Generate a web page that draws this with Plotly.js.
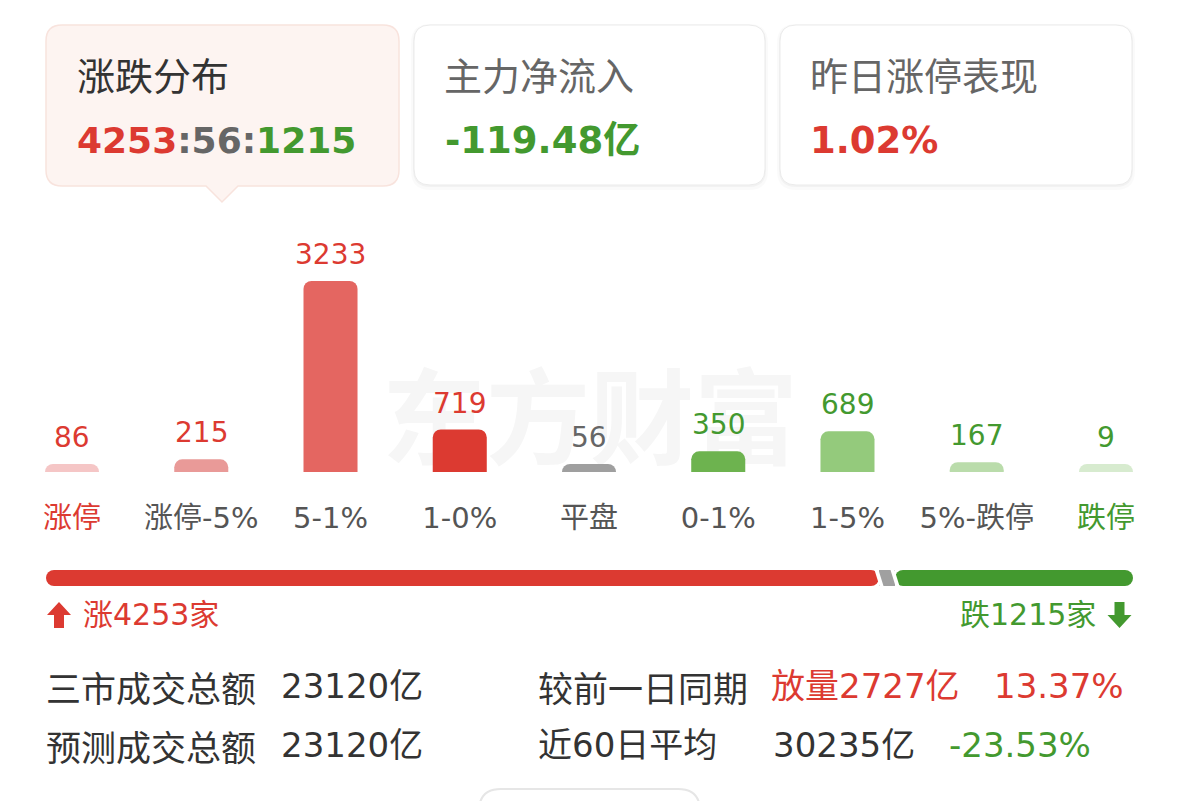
<!DOCTYPE html>
<html>
<head>
<meta charset="utf-8">
<script src="https://cdn.plot.ly/plotly-3.0.1.min.js"></script>
<style>
html,body{margin:0;padding:0;background:#fff;}
#chart{width:1179px;height:801px;}
</style>
</head>
<body>
<div id="chart"></div>
<script>
// ---------- data ----------
const categories = ['涨停', '涨停-5%', '5-1%', '1-0%', '平盘', '0-1%', '1-5%', '5%-跌停', '跌停'];
const counts = [86, 215, 3233, 719, 56, 350, 689, 167, 9];
const upCount = 4253;
const flatCount = 56;
const downCount = 1215;
const netInflow = '-119.48亿';
const yesterdayLimitUp = '1.02%';
const turnoverTotal = '23120亿';
const turnoverForecast = '23120亿';
const vsPrevAmount = '放量2727亿';
const vsPrevPct = '13.37%';
const avg60 = '30235亿';
const avg60Pct = '-23.53%';

// ---------- styles ----------
const W = 1179, H = 801;
const RED = '#dc3a31', GREEN = '#43992f', GRAY = '#666666', DARK = '#333333';
const barColors = ['#f5c6c6', '#e99a98', '#e46661', '#dc3a31', '#9f9f9f', '#6db34f', '#94ca7c', '#badcab', '#d7ebcf'];
const valueColors = [RED, RED, RED, RED, GRAY, GREEN, GREEN, GREEN, GREEN];
const labelColors = [RED, '#555555', '#555555', '#555555', '#555555', '#555555', '#555555', '#555555', GREEN];
const FONT = 'DejaVu Sans, Noto Sans CJK SC, sans-serif';
const CJK = 'Noto Sans CJK SC, sans-serif';

const X = x => x / W;
const Y = y => 1 - y / H;

// bar axis geometry
const yTopPx = 230, yBotPx = 472, yMax = 4096;
const minBarPx = 8; // emulate barMinHeight
const minVal = minBarPx * yMax / (yBotPx - yTopPx);
const displayVals = counts.map(v => Math.max(v, minVal));

function rr(x0, y0, x1, y1, r) {
  return `M${X(x0 + r)},${Y(y0)} L${X(x1 - r)},${Y(y0)} Q${X(x1)},${Y(y0)} ${X(x1)},${Y(y0 + r)} ` +
    `L${X(x1)},${Y(y1 - r)} Q${X(x1)},${Y(y1)} ${X(x1 - r)},${Y(y1)} L${X(x0 + r)},${Y(y1)} ` +
    `Q${X(x0)},${Y(y1)} ${X(x0)},${Y(y1 - r)} L${X(x0)},${Y(y0 + r)} Q${X(x0)},${Y(y0)} ${X(x0 + r)},${Y(y0)} Z`;
}
function rrPointer(x0, y0, x1, y1, r, px, ph, pw) {
  return `M${X(x0 + r)},${Y(y0)} L${X(x1 - r)},${Y(y0)} Q${X(x1)},${Y(y0)} ${X(x1)},${Y(y0 + r)} ` +
    `L${X(x1)},${Y(y1 - r)} Q${X(x1)},${Y(y1)} ${X(x1 - r)},${Y(y1)} ` +
    `L${X(px + pw / 2)},${Y(y1)} L${X(px)},${Y(y1 + ph)} L${X(px - pw / 2)},${Y(y1)} ` +
    `L${X(x0 + r)},${Y(y1)} Q${X(x0)},${Y(y1)} ${X(x0)},${Y(y1 - r)} L${X(x0)},${Y(y0 + r)} Q${X(x0)},${Y(y0)} ${X(x0 + r)},${Y(y0)} Z`;
}

const shapes = [];
// card shadows
[[414, 765], [780, 1132]].forEach(([a, b]) => {
  shapes.push({type: 'path', xref: 'paper', yref: 'paper', path: rr(a - 3, 25 - 1, b + 3, 185 + 5, 19), fillcolor: 'rgba(0,0,0,0.018)', line: {width: 0}});
  shapes.push({type: 'path', xref: 'paper', yref: 'paper', path: rr(a - 1, 25, b + 1, 185 + 2, 17), fillcolor: 'rgba(0,0,0,0.03)', line: {width: 0}});
  shapes.push({type: 'path', xref: 'paper', yref: 'paper', path: rr(a, 25, b, 185, 16), fillcolor: '#ffffff', line: {color: '#ebebeb', width: 1}});
});
// first card with pointer
shapes.push({type: 'path', xref: 'paper', yref: 'paper', path: rrPointer(46, 25, 399, 186, 16, 222, 16, 32), fillcolor: '#fdf4f1', line: {color: '#f8e3dd', width: 1.5}});

// watermark (below traces)
shapes.push({type: 'rect', xref: 'paper', yref: 'paper', x0: X(380), x1: X(800), y0: Y(482), y1: Y(374),
  line: {width: 0}, fillcolor: 'rgba(0,0,0,0)', layer: 'below',
  label: {text: '东方财富', textposition: 'middle center', font: {family: CJK, size: 104, color: '#f6f6f6', weight: 700}}});

// progress bar: flat segment gets a minimum visible width (like barMinHeight)
const progX0 = 46, progX1 = 1133, progW = progX1 - progX0;
const minFlatPx = 16;
const flatDisp = Math.max(flatCount, minFlatPx * (upCount + downCount) / (progW - minFlatPx));
const N = upCount + flatDisp + downCount;
const u = N / progW;
const gapPx = 4, slantPx = 5;
[upCount, upCount + flatDisp].forEach(b => {
  const g = gapPx * u, s = slantPx * u;
  const ext = 0.2, sx = s * (1 + 2 * ext);
  const topL = b - sx / 2 - g / 2, topR = b - sx / 2 + g / 2;
  const botL = b + sx / 2 - g / 2, botR = b + sx / 2 + g / 2;
  shapes.push({type: 'path', xref: 'x2', yref: 'y2', layer: 'above',
    path: `M${topL},${1 + ext} L${topR},${1 + ext} L${botR},${-ext} L${botL},${-ext} Z`,
    fillcolor: '#ffffff', line: {width: 0}});
});

// arrows
shapes.push({type: 'path', xref: 'paper', yref: 'paper', fillcolor: RED, line: {width: 0},
  path: `M${X(59)},${Y(602)} L${X(71)},${Y(615)} L${X(64)},${Y(615)} L${X(64)},${Y(628)} L${X(54)},${Y(628)} L${X(54)},${Y(615)} L${X(47)},${Y(615)} Z`});
shapes.push({type: 'path', xref: 'paper', yref: 'paper', fillcolor: GREEN, line: {width: 0},
  path: `M${X(1119.5)},${Y(628)} L${X(1131.5)},${Y(615)} L${X(1124.5)},${Y(615)} L${X(1124.5)},${Y(602)} L${X(1114.5)},${Y(602)} L${X(1114.5)},${Y(615)} L${X(1107.5)},${Y(615)} Z`});

// partially visible button at the bottom
shapes.push({type: 'path', xref: 'paper', yref: 'paper', path: rr(479, 789, 700, 840, 22), fillcolor: 'rgba(0,0,0,0)', line: {color: '#e6e6e6', width: 2}});

// ---------- annotations ----------
const ann = [];
function T(text, x, y, size, color, opts = {}) {
  ann.push(Object.assign({text, x: X(x), y: Y(y), xref: 'paper', yref: 'paper', showarrow: false,
    xanchor: 'left', yanchor: 'middle',
    font: {family: opts.family || FONT, size, color, weight: opts.weight || 400}}, opts.extra || {}));
}
// cards
T('涨跌分布', 75, 73, 38, DARK, {family: CJK});
T('主力净流入', 442, 73, 38, GRAY, {family: CJK});
T('昨日涨停表现', 808, 73, 38, GRAY, {family: CJK});
T(`<span style="color:${RED}">${upCount}</span>:${flatCount}:<span style="color:${GREEN}">${downCount}</span>`, 75, 140, 36, GRAY, {weight: 700});
T(netInflow, 443, 140, 37, GREEN, {weight: 700});
T(yesterdayLimitUp, 808, 140, 37, RED, {weight: 700});

// bar value labels
counts.forEach((v, i) => {
  ann.push({text: String(v), x: categories[i], y: displayVals[i], xref: 'x', yref: 'y', showarrow: false,
    xanchor: 'center', yanchor: 'bottom', yshift: 8,
    font: {family: FONT, size: 28, color: valueColors[i]}});
});

// up/down counts
T(`涨${upCount}家`, 81, 614, 30, RED);
ann.push({text: `跌${downCount}家`, x: X(1098), y: Y(614), xref: 'paper', yref: 'paper', showarrow: false,
  xanchor: 'right', yanchor: 'middle', font: {family: FONT, size: 30, color: GREEN}});

// bottom stats
T('三市成交总额', 44, 686, 35, DARK, {family: CJK});
T(turnoverTotal, 279, 686, 34, DARK);
T('较前一日同期', 536, 686, 35, DARK, {family: CJK});
T(vsPrevAmount, 769, 686, 34, RED);
T(vsPrevPct, 992, 686, 34, RED);
T('预测成交总额', 44, 745, 35, DARK, {family: CJK});
T(turnoverForecast, 279, 745, 34, DARK);
T('近60日平均', 536, 745, 34, DARK);
T(avg60, 771, 745, 34, DARK);
T(avg60Pct, 947, 745, 34, GREEN);

// ---------- traces ----------
const traces = [
  {type: 'bar', x: categories, y: displayVals, width: 0.418,
    marker: {color: barColors, cornerradius: 8, line: {width: 0}},
    hoverinfo: 'skip', xaxis: 'x', yaxis: 'y'},
  // progress bar segments
  {type: 'bar', orientation: 'h', y: [0.5], x: [-upCount], base: [upCount], width: [1],
    marker: {color: RED, cornerradius: 8, line: {width: 0}}, hoverinfo: 'skip', xaxis: 'x2', yaxis: 'y2'},
  {type: 'bar', orientation: 'h', y: [0.5], x: [flatDisp], base: [upCount], width: [1],
    marker: {color: '#a0a0a0', line: {width: 0}}, hoverinfo: 'skip', xaxis: 'x2', yaxis: 'y2'},
  {type: 'bar', orientation: 'h', y: [0.5], x: [downCount], base: [upCount + flatDisp], width: [1],
    marker: {color: GREEN, cornerradius: 8, line: {width: 0}}, hoverinfo: 'skip', xaxis: 'x2', yaxis: 'y2'}
];

const layout = {
  width: W, height: H,
  margin: {l: 0, r: 0, t: 0, b: 0},
  paper_bgcolor: '#ffffff', plot_bgcolor: 'rgba(0,0,0,0)',
  showlegend: false, barmode: 'overlay',
  xaxis: {domain: [7.4 / W, 1170.6 / W], type: 'category', range: [-0.5, 8.5],
    tickvals: categories,
    ticktext: categories.map((c, i) => `<span style="color:${labelColors[i]}">${c}</span>`),
    ticks: 'outside', ticklen: 20, tickcolor: 'rgba(0,0,0,0)',
    tickfont: {family: FONT, size: 29, color: '#555555'},
    showgrid: false, zeroline: false, showline: false, fixedrange: true, anchor: 'y'},
  yaxis: {domain: [Y(yBotPx), Y(yTopPx)], range: [0, yMax], visible: false, fixedrange: true, anchor: 'x'},
  xaxis2: {domain: [X(progX0), X(progX1)], range: [0, N], visible: false, fixedrange: true, anchor: 'y2'},
  yaxis2: {domain: [Y(586), Y(570)], range: [0, 1], visible: false, fixedrange: true, anchor: 'x2'},
  shapes, annotations: ann
};

Plotly.newPlot('chart', traces, layout, {displayModeBar: false, staticPlot: true});
</script>
</body>
</html>
